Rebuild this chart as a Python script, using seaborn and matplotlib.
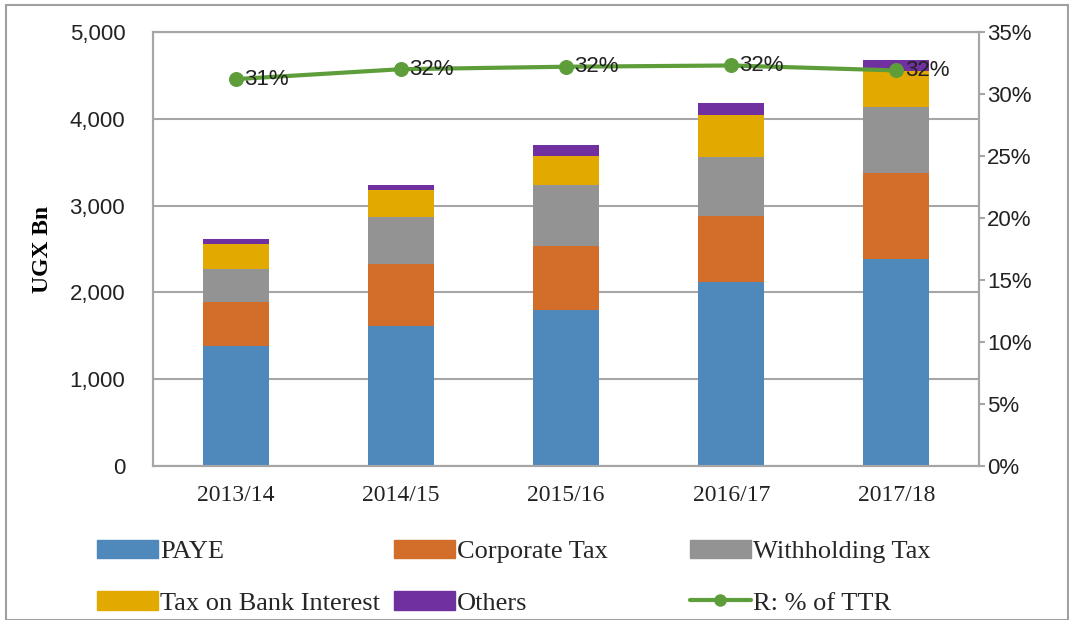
import matplotlib
matplotlib.use("Agg")
import matplotlib.pyplot as plt
import matplotlib.patches as mpatches
from matplotlib.lines import Line2D
from matplotlib.ticker import FuncFormatter, MultipleLocator
import numpy as np
import pandas as pd
import seaborn as sns

years = ['2013/14', '2014/15', '2015/16', '2016/17', '2017/18']
paye = [1385, 1615, 1800, 2120, 2390]
corporate = [500, 710, 730, 755, 990]
withholding = [385, 545, 705, 685, 755]
bank_interest = [285, 310, 340, 485, 420]
others = [60, 57, 125, 140, 125]
ttr_share = [31.2, 32.0, 32.2, 32.3, 31.9]
ttr_labels = ['31%', '32%', '32%', '32%', '32%']

series = ['PAYE', 'Corporate Tax', 'Withholding Tax', 'Tax on Bank Interest', 'Others']
colors = ['#4F89BC', '#D36E2A', '#939393', '#E2AA00', '#7030A0']
line_color = '#5E9E3A'
grid_color = '#A6A6A6'

SERIF = 'Liberation Serif'
SANS = 'Liberation Sans'


def main():
    sns.set_theme(style='white')
    plt.rcParams['font.family'] = [SERIF, 'DejaVu Sans']

    df = pd.DataFrame({'Year': years, 'PAYE': paye, 'Corporate Tax': corporate,
                       'Withholding Tax': withholding,
                       'Tax on Bank Interest': bank_interest, 'Others': others})
    cum = df[series].cumsum(axis=1)

    fig = plt.figure(figsize=(10.69, 6.2), dpi=100)
    W, H = 1069, 620
    ax = fig.add_axes([153 / W, (H - 466) / H, (979 - 153) / W, (466 - 32) / H])

    # stacked bars: draw the tallest cumulative first
    for name, col in reversed(list(zip(series, colors))):
        sns.barplot(x=df['Year'], y=cum[name], color=col, width=0.4,
                    saturation=1, ax=ax, order=years, edgecolor='none',
                    linewidth=0)

    ax.set_ylim(0, 5000)
    ax.yaxis.set_major_locator(MultipleLocator(1000))
    ax.yaxis.set_major_formatter(FuncFormatter(lambda v, p: f'{int(v):,}'))
    ax.set_xlim(-0.5, 4.5)
    ax.grid(axis='y', color=grid_color, linewidth=1.5)
    ax.set_axisbelow(True)
    ax.set_xlabel('')
    ax.set_ylabel('UGX Bn', fontsize=17, fontweight='bold', family=SERIF,
                  color='black', labelpad=12)
    for s in ax.spines.values():
        s.set_visible(True)
        s.set_color(grid_color)
        s.set_linewidth(1.5)
    ax.tick_params(axis='x', length=0, labelsize=17, colors='#222222', pad=14)
    ax.tick_params(axis='y', length=0, labelsize=16, colors='#222222', pad=20)
    for lbl in ax.get_yticklabels():
        lbl.set_family(SANS)

    ax2 = ax.twinx()
    sns.lineplot(x=np.arange(len(years)), y=ttr_share, ax=ax2, color=line_color,
                 linewidth=3, marker='o', markersize=10, markeredgecolor=line_color,
                 legend=False)
    ax2.set_ylim(0, 35)
    ax2.yaxis.set_major_locator(MultipleLocator(5))
    ax2.yaxis.set_major_formatter(FuncFormatter(lambda v, p: f'{int(v)}%'))
    ax2.set_ylabel('')
    ax2.tick_params(axis='y', length=4, width=1.5, labelsize=16,
                    colors='#222222', pad=2)
    ax2.tick_params(axis='y', color=grid_color)
    for lbl in ax2.get_yticklabels():
        lbl.set_family(SANS)
    for s in ax2.spines.values():
        s.set_color(grid_color)
        s.set_linewidth(1.5)
    for i, (v, t) in enumerate(zip(ttr_share, ttr_labels)):
        ax2.annotate(t, (i, v), xytext=(6, 0), textcoords='offset points',
                     ha='left', va='center', fontsize=16, family=SANS,
                     color='#222222')

    # legend: three columns of two rows, laid out like the original
    handles = [mpatches.Patch(color=c) for c in colors]
    handles.append(Line2D([], [], color=line_color, linewidth=3, marker='o',
                          markersize=8))
    labels = series + ['R: % of TTR']
    cols = [(0, 3), (1, 4), (2, 5)]
    xs = [97, 394, 690]
    for (a, b), x in zip(cols, xs):
        fig.legend([handles[a], handles[b]], [labels[a], labels[b]],
                   loc='upper left', bbox_to_anchor=(x / W, 1 - 540 / H),
                   frameon=False, ncol=1, fontsize=19, handlelength=2.3,
                   handleheight=0.7, handletextpad=0.1, labelspacing=1.05,
                   borderpad=0, borderaxespad=0)

    fig.patches.append(mpatches.Rectangle((6 / W, 0), 1 - 6 / W - 1 / W, 1 - 5 / H,
                                          transform=fig.transFigure, fill=False,
                                          edgecolor='#A0A0A0', linewidth=1.5))

    fig.savefig('out.png', dpi=100)
    plt.close(fig)


if __name__ == '__main__':
    main()
